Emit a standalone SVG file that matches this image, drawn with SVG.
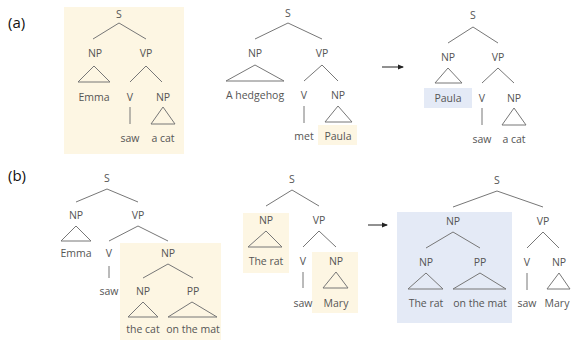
<svg xmlns="http://www.w3.org/2000/svg" width="571" height="340" viewBox="0 0 571 340">
<style>
text{font-family:"Open Sans","Noto Sans",sans-serif;font-size:10.5px;fill:#555;text-anchor:middle}
.lab{font-size:15px;fill:#111;text-anchor:start}
.e{fill:none;stroke:#777;stroke-width:1}
.y{fill:#fdf6e3}
.b{fill:#e4eaf6}
.arr{stroke:#222;stroke-width:1;fill:none}
</style>
<defs>
<marker id="ah" markerWidth="6" markerHeight="6" refX="5" refY="3" orient="auto" markerUnits="userSpaceOnUse">
<path d="M0,0.5 L6,3 L0,5.5 z" fill="#222"/>
</marker>
</defs>
<rect width="571" height="340" fill="#fff"/>
<g id="highlights">
<rect class="y" x="64" y="7" width="120" height="147"/>
<rect class="y" x="318" y="125" width="39" height="20"/>
<rect class="b" x="424" y="88" width="48" height="20"/>
<rect class="y" x="120" y="243" width="101" height="97"/>
<rect class="y" x="243" y="213" width="46" height="60"/>
<rect class="y" x="312" y="252" width="46" height="61"/>
<rect class="b" x="397" y="212" width="115" height="111"/>
</g>
<g id="labels">
<text class="lab" x="8" y="28">(a)</text>
<text class="lab" x="8" y="181">(b)</text>
</g>
<g id="connectors">
<path class="e" d="M93,39 L119,23 L146,39"/>
<path class="e" d="M94,66 L78,82 L110,82 z"/>
<path class="e" d="M130,82 L146,66 L162,82"/>
<path class="e" d="M130,107 L130,124"/>
<path class="e" d="M163,107 L151,124 L175,124 z"/>
<path class="e" d="M255,39 L288,23 L322,39"/>
<path class="e" d="M255,65 L226,81 L284,81 z"/>
<path class="e" d="M304,81 L322,65 L338,81"/>
<path class="e" d="M304,106 L304,123"/>
<path class="e" d="M338,106 L325,122 L352,122 z"/>
<path class="e" d="M448,43 L473,27 L498,43"/>
<path class="e" d="M448,68 L435,83 L462,83 z"/>
<path class="e" d="M482,83 L498,68 L514,83"/>
<path class="e" d="M482,108 L482,125"/>
<path class="e" d="M514,108 L502,125 L526,125 z"/>
<path class="e" d="M76,202 L107,189 L138,202"/>
<path class="e" d="M76,226 L61,241 L91,241 z"/>
<path class="e" d="M109,241 L138,226 L168,241"/>
<path class="e" d="M109,266 L109,278"/>
<path class="e" d="M143,278 L168,264 L193,278"/>
<path class="e" d="M143,302 L128,317 L158,317 z"/>
<path class="e" d="M192,302 L168,317 L217,317 z"/>
<path class="e" d="M266,206 L292,190 L319,206"/>
<path class="e" d="M266,231 L248,247 L282,247 z"/>
<path class="e" d="M303,247 L319,231 L336,247"/>
<path class="e" d="M303,272 L303,288"/>
<path class="e" d="M336,272 L323,288 L348,288 z"/>
<path class="e" d="M453,207 L497,191 L543,207"/>
<path class="e" d="M426,248 L453,232 L480,248"/>
<path class="e" d="M426,273 L408,289 L443,289 z"/>
<path class="e" d="M480,273 L453,289 L506,289 z"/>
<path class="e" d="M527,248 L543,232 L559,248"/>
<path class="e" d="M527,273 L527,290"/>
<path class="e" d="M559,273 L547,289 L570,289 z"/>
<path class="arr" d="M382,67 L403,67" marker-end="url(#ah)"/>
<path class="arr" d="M368,225 L387,225" marker-end="url(#ah)"/>
</g>
<g id="tree-a1">
<text x="119" y="18">S</text>
<text x="95" y="57">NP</text>
<text x="146" y="57">VP</text>
<text x="94" y="101">Emma</text>
<text x="130" y="101">V</text>
<text x="163" y="101">NP</text>
<text x="130" y="142">saw</text>
<text x="163" y="142">a cat</text>
</g>
<g id="tree-a2">
<text x="288" y="17">S</text>
<text x="255" y="57">NP</text>
<text x="322" y="57">VP</text>
<text x="255" y="99">A hedgehog</text>
<text x="304" y="99">V</text>
<text x="338" y="99">NP</text>
<text x="304" y="140">met</text>
<text x="338" y="140">Paula</text>
</g>
<g id="tree-a3">
<text x="473" y="19">S</text>
<text x="448" y="61">NP</text>
<text x="498" y="61">VP</text>
<text x="448" y="102">Paula</text>
<text x="482" y="102">V</text>
<text x="514" y="102">NP</text>
<text x="482" y="143">saw</text>
<text x="514" y="143">a cat</text>
</g>
<g id="tree-b1">
<text x="107" y="182">S</text>
<text x="76" y="219">NP</text>
<text x="138" y="219">VP</text>
<text x="76" y="257">Emma</text>
<text x="109" y="257">V</text>
<text x="168" y="257">NP</text>
<text x="109" y="295">saw</text>
<text x="143" y="295">NP</text>
<text x="193" y="295">PP</text>
<text x="143" y="333">the cat</text>
<text x="193" y="333">on the mat</text>
</g>
<g id="tree-b2">
<text x="292" y="183">S</text>
<text x="266" y="224">NP</text>
<text x="319" y="224">VP</text>
<text x="266" y="265">The rat</text>
<text x="303" y="265">V</text>
<text x="336" y="265">NP</text>
<text x="303" y="307">saw</text>
<text x="336" y="307">Mary</text>
</g>
<g id="tree-b3">
<text x="497" y="184">S</text>
<text x="453" y="225">NP</text>
<text x="543" y="225">VP</text>
<text x="426" y="266">NP</text>
<text x="480" y="266">PP</text>
<text x="527" y="266">V</text>
<text x="559" y="266">NP</text>
<text x="426" y="307">The rat</text>
<text x="480" y="307">on the mat</text>
<text x="527" y="307">saw</text>
<text x="557" y="307">Mary</text>
</g>
</svg>
